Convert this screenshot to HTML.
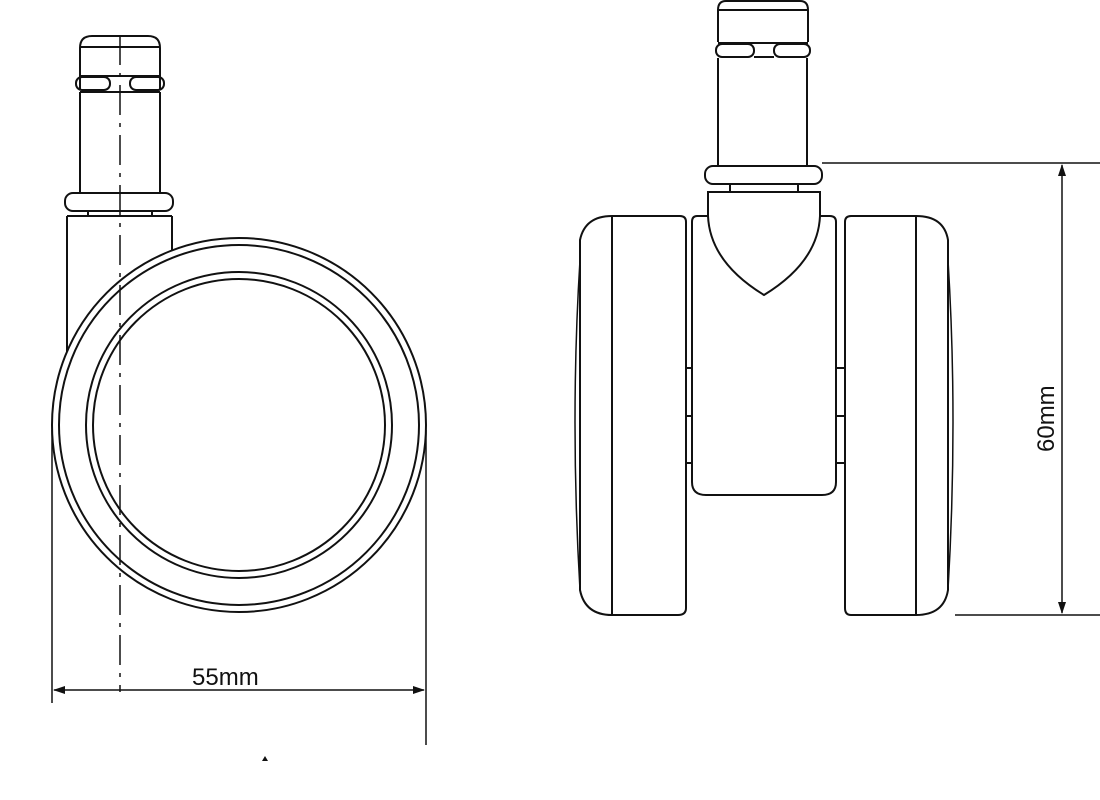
<!DOCTYPE html>
<html><head><style>
html,body{margin:0;padding:0;background:#fff;width:1100px;height:800px;overflow:hidden}
svg{display:block}
text{font-family:"Liberation Sans",sans-serif;fill:#111}
</style></head><body>
<svg width="1100" height="800" viewBox="0 0 1100 800" fill="none" stroke="#111" stroke-width="2">
<!-- LEFT VIEW -->
<!-- stem cap -->
<path d="M80 90 V48 Q80 36 92 36 H148 Q160 36 160 48 V90"/>
<line x1="80" y1="47" x2="160" y2="47"/>
<rect x="76" y="77" width="34" height="13" rx="6"/>
<rect x="130" y="77" width="34" height="13" rx="6"/>
<line x1="80" y1="76" x2="160" y2="76"/>
<line x1="80" y1="92" x2="160" y2="92"/>
<line x1="80" y1="92" x2="80" y2="193"/>
<line x1="160" y1="92" x2="160" y2="193"/>
<rect x="65" y="193" width="108" height="18" rx="8"/>
<line x1="88" y1="211" x2="88" y2="216"/>
<line x1="152" y1="211" x2="152" y2="216"/>
<line x1="67" y1="216" x2="172" y2="216"/>
<line x1="67" y1="216" x2="67" y2="352"/>
<line x1="172" y1="216" x2="172" y2="250"/>
<!-- wheel -->
<circle cx="239" cy="425" r="187"/>
<circle cx="239" cy="425" r="180"/>
<circle cx="239" cy="425" r="153"/>
<circle cx="239" cy="425" r="146"/>
<!-- center line -->
<line x1="120" y1="35" x2="120" y2="692" stroke-dasharray="30 8 4 8" stroke-width="1.5"/>
<!-- dimension 55mm -->
<line x1="52" y1="430" x2="52" y2="703" stroke-width="1.5"/>
<line x1="426" y1="430" x2="426" y2="745" stroke-width="1.5"/>
<line x1="54" y1="690" x2="424" y2="690" stroke-width="1.5"/>
<path d="M53 690 l12 -4 v8 z M425 690 l-12 -4 v8 z" fill="#111" stroke="none"/>
<text x="192" y="685" font-size="24" stroke="none">55mm</text>
<path d="M262 761 l3 -5 l3 5 z" fill="#111" stroke="none"/>

<!-- RIGHT VIEW -->
<path d="M718 42 V10 Q718 1 726 1 H800 Q808 1 808 10 V42"/>
<line x1="718" y1="10" x2="808" y2="10"/>
<line x1="718" y1="43" x2="808" y2="43"/>
<rect x="716" y="44" width="38" height="13" rx="6"/>
<rect x="774" y="44" width="36" height="13" rx="6"/>
<line x1="754" y1="57" x2="774" y2="57"/>
<line x1="718" y1="58" x2="718" y2="166"/>
<line x1="807" y1="58" x2="807" y2="166"/>
<rect x="705" y="166" width="117" height="18" rx="8"/>
<line x1="730" y1="184" x2="730" y2="192"/>
<line x1="798" y1="184" x2="798" y2="192"/>
<path d="M708 192 H820 V216 Q818 262 764 295 Q710 262 708 216 Z"/>
<!-- hub -->
<path d="M708 216 H697 Q692 216 692 222 V482 Q692 495 706 495 H822 Q836 495 836 482 V222 Q836 216 830 216 H820"/>
<!-- left wheel -->
<path d="M612 216 H680 Q686 216 686 222 V608 Q686 615 678 615 H612 Q585 615 580 590 V240 Q585 216 612 216 Z"/>
<line x1="612" y1="216" x2="612" y2="615"/>
<path d="M580 260 Q570 420 580 590" stroke-width="1.5"/>
<!-- right wheel -->
<path d="M916 216 H851 Q845 216 845 222 V608 Q845 615 851 615 H916 Q944 615 948 590 V240 Q944 216 916 216 Z"/>
<line x1="916" y1="216" x2="916" y2="615"/>
<path d="M948 260 Q958 420 948 590" stroke-width="1.5"/>
<!-- bands -->
<line x1="686" y1="368" x2="692" y2="368"/><line x1="686" y1="416" x2="692" y2="416"/><line x1="686" y1="463" x2="692" y2="463"/>
<line x1="836" y1="368" x2="845" y2="368"/><line x1="836" y1="416" x2="845" y2="416"/><line x1="836" y1="463" x2="845" y2="463"/>
<!-- dimension 60mm -->
<line x1="822" y1="163" x2="1100" y2="163" stroke-width="1.5"/>
<line x1="955" y1="615" x2="1100" y2="615" stroke-width="1.5"/>
<line x1="1062" y1="165" x2="1062" y2="613" stroke-width="1.5"/>
<path d="M1062 164 l-4 12 h8 z M1062 614 l-4 -12 h8 z" fill="#111" stroke="none"/>
<text x="0" y="0" font-size="24" stroke="none" transform="translate(1054 452) rotate(-90)">60mm</text>
</svg>
</body></html>
